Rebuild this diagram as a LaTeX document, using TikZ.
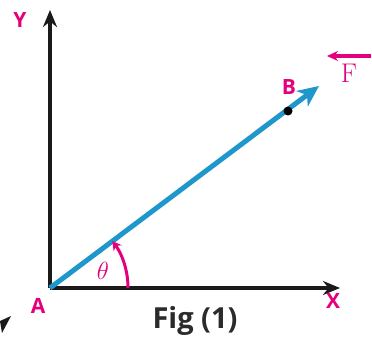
\documentclass[tikz,border=0pt]{standalone}
\usepackage{fontspec}
\setsansfont{Open Sans}
\usetikzlibrary{arrows.meta,positioning}

\definecolor{vecblue}{HTML}{1F97CC}
\definecolor{lblpink}{HTML}{E4007C}
\definecolor{axisblack}{HTML}{1A1A1A}
\definecolor{figgray}{HTML}{2B2B2B}

\tikzset{
  axisline/.style={draw=axisblack, line width=4pt,
    -{Stealth[length=17pt,width=14pt]}},
  forcevec/.style={draw=vecblue, line width=5pt,
    -{Stealth[length=21pt,width=19pt,inset=6pt]}},
  ptlabel/.style={text=lblpink, inner sep=0pt,
    font=\sffamily\bfseries\fontsize{21}{21}\selectfont},
  anglearc/.style={draw=lblpink, line width=3pt,
    -{Stealth[length=9pt,width=10pt]}},
}

\begin{document}
\begin{tikzpicture}[x=1pt, y=1pt]
  \useasboundingbox (0,0) rectangle (372,343);

  % ── Points ───────────────────────────────────────────────────────────────
  \coordinate (A) at (50,55);
  \coordinate (Ytip) at (50,333);
  \coordinate (Xtip) at (340,55);
  \coordinate (Btip) at (319,257);

  % ── Axes ─────────────────────────────────────────────────────────────────
  \draw[axisline] (A) -- (Ytip);
  \draw[axisline] (A) -- (Xtip);

  % ── Force vector ─────────────────────────────────────────────────────────
  \draw[forcevec] (A) -- (Btip);
  \fill[black] (288,232) circle (4.5);

  % ── Angle ────────────────────────────────────────────────────────────────
  \draw[anglearc] ([shift={(0:78)}]A) arc[start angle=0, end angle=37, radius=78];
  \node[text=lblpink, font=\fontsize{29}{29}\selectfont] (th) at (103,72) {$\theta$};

  % ── Labels ───────────────────────────────────────────────────────────────
  \node[ptlabel] (lY) at (20,323) {Y};
  \node[ptlabel] (lX) at (333,42) {X};
  \node[ptlabel] (lA) at (38,37) {A};
  \node[ptlabel] (lB) at (289,256) {B};

  \node[text=lblpink, inner sep=0pt, font=\fontsize{27}{27}\selectfont]
    (lF) at (349,270) {F};
  \coordinate (Fr) at (371,287);
  \coordinate (Fl) at (327,287);
  \draw[lblpink, line width=3.5pt, -{Stealth[length=11pt,width=10pt]}] (Fr) -- (Fl);

  % ── Caption ──────────────────────────────────────────────────────────────
  \node[text=figgray, inner sep=0pt, anchor=base,
        font=\sffamily\bfseries\fontsize{29}{29}\selectfont]
    (cap) at (195,15) {Fig (1)};

  % stray arrowhead fragment at the corner
  \fill[axisblack] (11,27) -- (0,22) -- (2,10) -- cycle;
\end{tikzpicture}
\end{document}
